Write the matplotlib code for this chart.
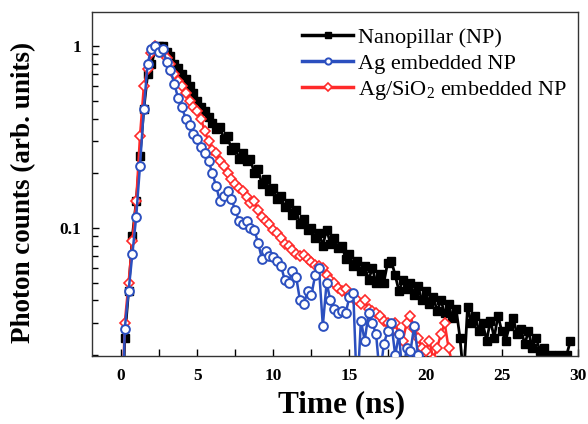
import numpy as np
import matplotlib
matplotlib.use("Agg")
import matplotlib.pyplot as plt
from matplotlib.ticker import MultipleLocator, LogLocator, FixedLocator, NullFormatter

plt.rcParams['font.family'] = ['Liberation Serif', 'DejaVu Serif']
plt.rcParams['mathtext.fontset'] = 'custom'
plt.rcParams['mathtext.rm'] = 'Liberation Serif'
plt.rcParams['mathtext.it'] = 'Liberation Serif:italic'
plt.rcParams['mathtext.bf'] = 'Liberation Serif:bold'

time_step = 0.25

np_counts = [0.005, 0.025, 0.045, 0.09, 0.14, 0.25, 0.45, 0.70, 0.80, 0.95,
             1.0, 1.0, 0.93, 0.88, 0.80, 0.76, 0.70, 0.66, 0.60, 0.55,
             0.50, 0.46, 0.44, 0.41, 0.38, 0.35, 0.36, 0.31, 0.32, 0.27,
             0.28, 0.24, 0.26, 0.235, 0.24, 0.20, 0.21, 0.175, 0.185, 0.16,
             0.165, 0.145, 0.15, 0.13, 0.138, 0.118, 0.125, 0.105, 0.112, 0.098,
             0.1, 0.088, 0.094, 0.08, 0.098, 0.082, 0.088, 0.078, 0.08, 0.068,
             0.072, 0.062, 0.066, 0.058, 0.062, 0.052, 0.06, 0.05, 0.056, 0.05,
             0.064, 0.066, 0.055, 0.045, 0.052, 0.046, 0.05, 0.043, 0.048, 0.04,
             0.045, 0.038, 0.042, 0.035, 0.04, 0.034, 0.038, 0.032, 0.036, 0.025,
             0.015, 0.037, 0.03, 0.033, 0.027, 0.03, 0.024, 0.031, 0.025, 0.033,
             0.027, 0.024, 0.029, 0.032, 0.026, 0.028, 0.023, 0.027, 0.022, 0.025,
             0.021, 0.022, 0.019, 0.02, 0.018, 0.02, 0.019, 0.02, 0.024]

ag_counts = [0.005, 0.028, 0.045, 0.072, 0.115, 0.22, 0.45, 0.80, 0.97, 1.0,
             0.93, 0.96, 0.82, 0.74, 0.62, 0.52, 0.46, 0.40, 0.37, 0.33,
             0.31, 0.28, 0.26, 0.235, 0.20, 0.17, 0.14, 0.15, 0.16, 0.145,
             0.125, 0.11, 0.105, 0.11, 0.10, 0.098, 0.083, 0.068, 0.075, 0.07,
             0.069, 0.066, 0.062, 0.052, 0.05, 0.058, 0.054, 0.04, 0.038, 0.045,
             0.043, 0.055, 0.06, 0.029, 0.05, 0.04, 0.036, 0.034, 0.035, 0.034,
             0.042, 0.044, 0.012, 0.031, 0.024, 0.034, 0.03, 0.026, 0.015, 0.023,
             0.027, 0.03, 0.02, 0.026, 0.015, 0.022, 0.021, 0.029, 0.02, 0.012]

agsio2_counts = [0.006, 0.03, 0.05, 0.085, 0.14, 0.32, 0.60, 0.75, 0.92, 1.0,
                 0.95, 0.92, 0.86, 0.80, 0.70, 0.64, 0.60, 0.55, 0.50, 0.46,
                 0.44, 0.40, 0.34, 0.30, 0.27, 0.26, 0.235, 0.22, 0.20, 0.185,
                 0.175, 0.165, 0.16, 0.148, 0.138, 0.14, 0.125, 0.115, 0.11, 0.105,
                 0.098, 0.094, 0.088, 0.082, 0.08, 0.076, 0.072, 0.07, 0.071, 0.068,
                 0.065, 0.063, 0.062, 0.06, 0.055, 0.052, 0.05, 0.047, 0.045, 0.046,
                 0.043, 0.041, 0.04, 0.038, 0.04, 0.036, 0.035, 0.034, 0.033, 0.031,
                 0.03, 0.029, 0.03, 0.026, 0.024, 0.03, 0.033, 0.028, 0.025, 0.022,
                 0.021, 0.024, 0.019, 0.022, 0.026, 0.03, 0.022, 0.018, 0.012]

labels = ['Nanopillar (NP)', 'Ag embedded NP', r'Ag/SiO$_2$ embedded NP']
x_ticks = [0, 5, 10, 15, 20, 25, 30]

t_np = np.arange(len(np_counts)) * time_step
t_ag = np.arange(len(ag_counts)) * time_step
t_as = np.arange(len(agsio2_counts)) * time_step

W, H = 588, 424
fig = plt.figure(figsize=(W / 100, H / 100), dpi=100)
ax = fig.add_axes([92 / W, 1 - 356 / H, (578 - 92) / W, (356 - 12) / H])

h1, = ax.plot(t_np, np_counts, color='black', marker='s', ms=5.5, lw=2.0,
              mfc='black', mec='black', label=labels[0], zorder=2)
h3, = ax.plot(t_as, agsio2_counts, color='#ff2a2a', marker='D', ms=5.5, lw=1.8,
              mfc='white', mec='#ff2a2a', mew=1.2, label=labels[2], zorder=3)
h2, = ax.plot(t_ag, ag_counts, color='#2b4fbf', marker='o', ms=6.3, lw=1.8,
              mfc='white', mec='#2b4fbf', mew=1.4, label=labels[1], zorder=4)

ax.set_yscale('log')
ax.set_ylim(0.0198, 1.54)
ax.set_xlim(-1.9, 30)

ax.xaxis.set_major_locator(FixedLocator(x_ticks))
ax.xaxis.set_minor_locator(MultipleLocator(2.5))
ax.yaxis.set_major_locator(FixedLocator([0.1, 1]))
ax.yaxis.set_major_formatter(plt.FixedFormatter(['0.1', '1']))
ax.yaxis.set_minor_locator(LogLocator(base=10, subs=np.arange(2, 10)))
ax.yaxis.set_minor_formatter(NullFormatter())

ax.tick_params(axis='both', which='both', direction='in', top=False, right=False)
ax.tick_params(axis='both', which='major', length=5, width=1, labelsize=12.5)
ax.tick_params(axis='x', which='major', pad=9)
ax.tick_params(axis='y', which='major', pad=8)
ax.tick_params(axis='x', which='minor', length=5, width=1)
ax.tick_params(axis='y', which='minor', length=4, width=1)
for lab in ax.get_xticklabels() + ax.get_yticklabels():
    lab.set_fontweight('bold')
for sp in ax.spines.values():
    sp.set_linewidth(1.0)
    sp.set_color('#333333')

ax.set_xlabel('Time (ns)', fontsize=22.5, fontweight='bold', labelpad=4)
ax.xaxis.set_label_coords((342 - 92) / 486, -0.1)
ax.set_ylabel('Photon counts (arb. units)', fontsize=19.5, fontweight='bold')
ax.yaxis.set_label_coords((24 - 92) / 486, (356 - 192) / 344)
ax.yaxis.label.set_va('center')

leg = ax.legend(handles=[h1, h2, h3], loc='upper left', frameon=False,
                fontsize=16, handlelength=2.3, handletextpad=0.2,
                labelspacing=0.25, borderpad=0, borderaxespad=0,
                bbox_to_anchor=(302 / W, 1 - 27 / H),
                bbox_transform=fig.transFigure)
for lh in leg.get_lines():
    lh.set_linewidth(2.5)
    lh.set_markersize(4.5)

fig.savefig('out.png', dpi=100)
